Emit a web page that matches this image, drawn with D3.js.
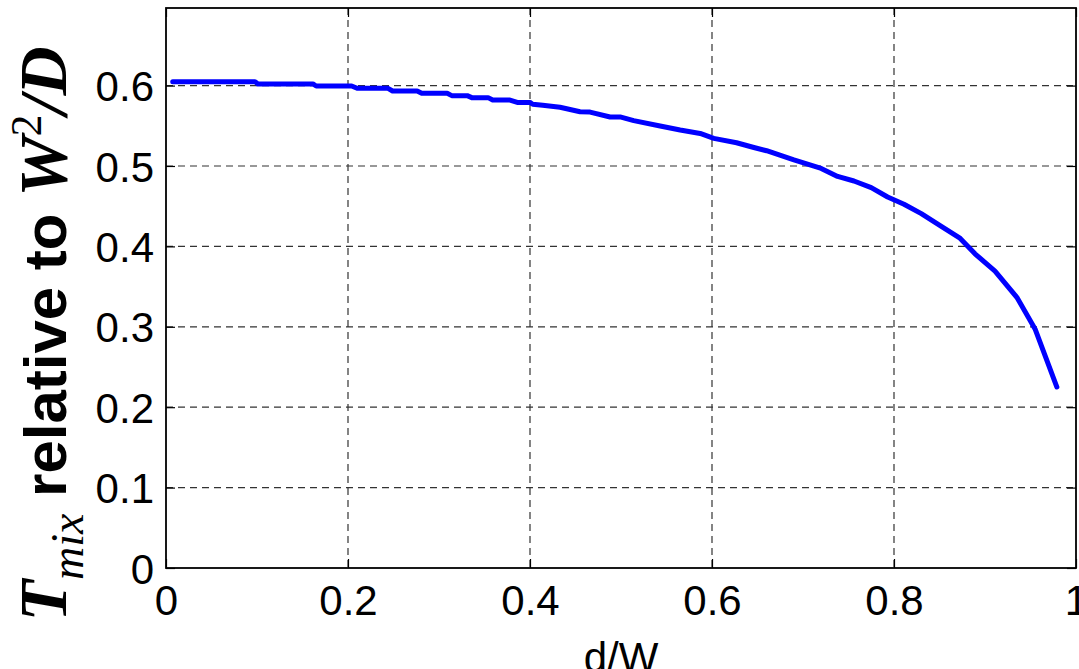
<!DOCTYPE html>
<html><head><meta charset="utf-8">
<script src="https://cdn.jsdelivr.net/npm/d3@7/dist/d3.min.js"></script>
<style>body{margin:0;background:#fff;overflow:hidden}</style>
</head><body><svg id="c" width="1079" height="669"></svg>
<script>
const dW = [0.0074,0.0978,0.101,0.1615,0.165,0.204,0.210,0.244,0.249,0.276,0.281,0.309,0.314,0.331,0.336,0.354,0.359,0.378,0.386,0.400,0.403,0.414,0.433,0.455,0.466,0.488,0.499,0.514,0.543,0.565,0.587,0.602,0.627,0.646,0.660,0.690,0.720,0.738,0.756,0.775,0.793,0.811,0.830,0.852,0.872,0.889,0.911,0.935,0.955,0.979];
const tMix = [0.6049,0.6049,0.602,0.602,0.5995,0.5995,0.5966,0.5966,0.5933,0.5933,0.5904,0.5904,0.5875,0.5875,0.585,0.585,0.582,0.582,0.579,0.579,0.5768,0.5755,0.573,0.5675,0.567,0.561,0.561,0.5564,0.5498,0.5448,0.5405,0.5343,0.5289,0.523,0.519,0.5075,0.497,0.487,0.4813,0.473,0.4614,0.4524,0.4407,0.4249,0.4107,0.3908,0.3692,0.3367,0.2973,0.2251];
const xTicks = [0,0.2,0.4,0.6,0.8,1];
const xTickLabels = ["0","0.2","0.4","0.6","0.8","1"];
const yTicks = [0,0.1,0.2,0.3,0.4,0.5,0.6];
const yTickLabels = ["0","0.1","0.2","0.3","0.4","0.5","0.6"];
const xDomain = [0,1];
const yDomain = [0,0.6965];

const L=166,R=1076,T=8,B=568;
const svg=d3.select("#c");
const x=d3.scaleLinear().domain(xDomain).range([L,R]);
const y=d3.scaleLinear().domain(yDomain).range([B,T]);
const tickFont="'Liberation Sans',Arial,sans-serif";

// grid
const g=svg.append("g");
g.selectAll(".vg").data(xTicks.slice(1,-1)).join("line")
 .attr("x1",d=>x(d)).attr("x2",d=>x(d)).attr("y1",T).attr("y2",B)
 .attr("stroke","#333").attr("stroke-width",1.2).attr("stroke-dasharray","7,5");
g.selectAll(".hg").data(yTicks.slice(1)).join("line")
 .attr("x1",L).attr("x2",R).attr("y1",d=>y(d)).attr("y2",d=>y(d))
 .attr("stroke","#333").attr("stroke-width",1.2).attr("stroke-dasharray","7,5");

// axes with inward ticks
const ax=(gen,tr)=>svg.append("g").attr("transform",tr).call(gen);
const xb=ax(d3.axisBottom(x).tickValues(xTicks).tickSizeInner(-9).tickSizeOuter(0).tickFormat((d,i)=>xTickLabels[i]),`translate(0,${B})`);
const xt=ax(d3.axisTop(x).tickValues(xTicks).tickSizeInner(-9).tickSizeOuter(0).tickFormat(""),`translate(0,${T})`);
const yl=ax(d3.axisLeft(y).tickValues(yTicks).tickSizeInner(-9).tickSizeOuter(0).tickFormat((d,i)=>yTickLabels[i]),`translate(${L},0)`);
const yr=ax(d3.axisRight(y).tickValues(yTicks).tickSizeInner(-9).tickSizeOuter(0).tickFormat(""),`translate(${R},0)`);
[xb,xt,yl,yr].forEach(a=>{a.select(".domain").remove();a.selectAll("line").attr("stroke","#000").attr("stroke-width",1.2);});
xb.selectAll("text").attr("font-family",tickFont).attr("font-size",42).attr("fill","#000").attr("dy",null).attr("y",47);
yl.selectAll("text").attr("font-family",tickFont).attr("font-size",42).attr("fill","#000").attr("dy","0.36em").attr("x",-12);

// box
svg.append("rect").attr("x",L).attr("y",T).attr("width",R-L).attr("height",B-T)
 .attr("fill","none").attr("stroke","#000").attr("stroke-width",1.8);

// line
svg.append("path").datum(dW.map((d,i)=>[d,tMix[i]]))
 .attr("d",d3.line().x(d=>x(d[0])).y(d=>y(d[1])))
 .attr("fill","none").attr("stroke","#0000ff").attr("stroke-width",5).attr("stroke-linejoin","round").attr("stroke-linecap","round");

// x label
svg.append("text").attr("x",(L+R)/2).attr("y",672).attr("text-anchor","middle")
 .attr("font-family",tickFont).attr("font-size",42).text("d/W");

// y label
const serif="'Liberation Serif','Times New Roman',serif";
const yt=svg.append("text").attr("transform","translate(66,334) rotate(-90)").attr("text-anchor","middle");
yt.append("tspan").attr("font-family",serif).attr("font-weight","bold").attr("font-style","italic").attr("font-size",68).text("T");
yt.append("tspan").attr("font-family",serif).attr("font-style","italic").attr("font-size",46).attr("dy",17).text("mix");
yt.append("tspan").attr("font-family",tickFont).attr("font-weight","bold").attr("font-size",60).attr("dy",-17).text(" relative to ");
yt.append("tspan").attr("font-family",serif).attr("font-weight","bold").attr("font-style","italic").attr("font-size",68).text("W");
yt.append("tspan").attr("font-family",serif).attr("font-size",44).attr("dy",-25).text("2");
yt.append("tspan").attr("font-family",serif).attr("font-weight","bold").attr("font-style","italic").attr("font-size",68).attr("dy",25).text("/D");
</script></body></html>
